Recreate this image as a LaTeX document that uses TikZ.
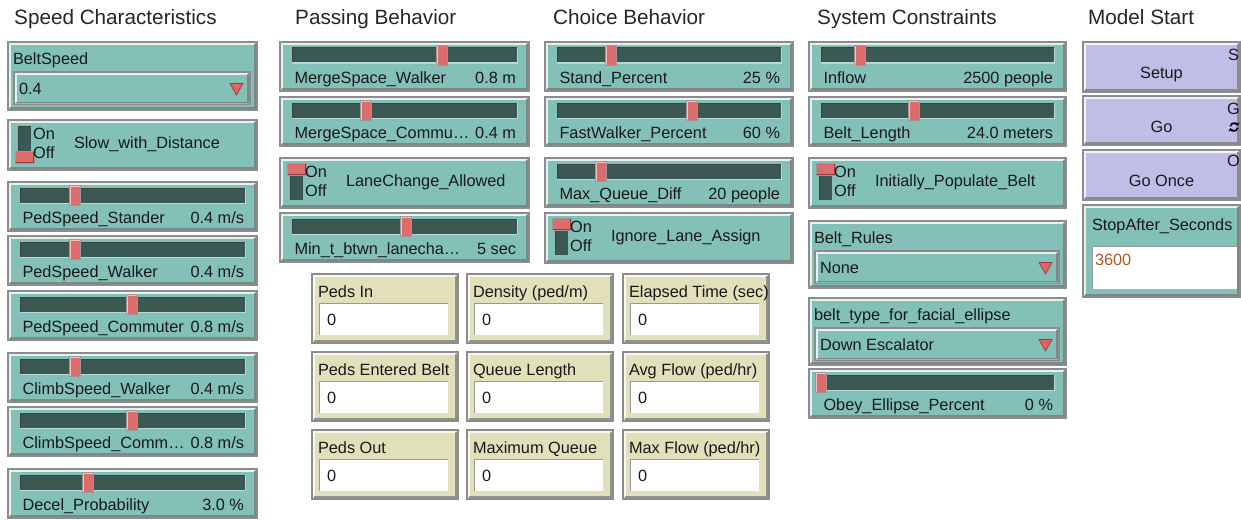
\documentclass[tikz,border=0pt]{standalone}
\usepackage{fontspec}
\setmainfont{Liberation Sans}
\usetikzlibrary{arrows.meta}
\definecolor{nlteal}{RGB}{131,193,184}
\definecolor{nltrack}{RGB}{60,88,83}
\definecolor{nlknob}{RGB}{221,108,108}
\definecolor{nlknobhi}{RGB}{245,190,190}
\definecolor{nlknobsh}{RGB}{150,60,60}
\definecolor{nlbeige}{RGB}{225,224,186}
\definecolor{nllav}{RGB}{190,190,230}
\definecolor{nltri}{RGB}{225,100,100}
\definecolor{nlbrown}{RGB}{180,85,35}
\definecolor{nltext}{RGB}{25,25,25}
\newcommand{\nlfont}{\fontsize{16.3}{19}\selectfont}
\newcommand{\nlhfont}{\fontsize{20.7}{24}\selectfont}
\tikzset{
  nlout/.style={draw=black!45, line width=1.2pt},
  nlhi/.style={draw=white, line width=1.3pt, opacity=0.8},
  nlsh/.style={draw=black!55, line width=1.3pt, opacity=0.7},
  lbl/.style={inner sep=0pt, outer sep=0pt, anchor=base west, font=\nlfont, text=nltext},
  val/.style={inner sep=0pt, outer sep=0pt, anchor=base east, font=\nlfont, text=nltext},
  ctr/.style={inner sep=0pt, outer sep=0pt, anchor=base, font=\nlfont, text=nltext},
  hdr/.style={inner sep=0pt, anchor=base west, font=\nlhfont, text=black!85},
  onoff/.style={inner sep=0pt, anchor=base west, font=\nlfont, text=nltext},
  loopicon/.style={line width=1.7pt, -{Triangle[length=2.6pt,width=5pt]}},
}
\newcommand{\nlbevel}[5]{%
  \fill[#5] (#1,#2) rectangle (#3,#4);
  \draw[nlhi] (#1+2,#4-2) -- (#1+2,#2+2) -- (#3-2,#2+2);
  \draw[nlsh] (#1+2,#4-2) -- (#3-2,#4-2) -- (#3-2,#2+2);
  \draw[nlout] (#1,#2) rectangle (#3,#4);
}
\newcommand{\nlknob}[4]{%
  \fill[nlknob] (#1,#2) rectangle (#3,#4);
  \draw[nlknobhi, line width=1pt] (#1+0.5,#4-0.5) -- (#1+0.5,#2+0.5) -- (#3-0.5,#2+0.5);
  \draw[nlknobsh, line width=1pt] (#1+0.5,#4-0.5) -- (#3-0.5,#4-0.5) -- (#3-0.5,#2+0.5);
  \draw[black!40, line width=0.6pt] (#1,#2) rectangle (#3,#4);
}
\newcommand{\nlslider}[7]{%
  \nlbevel{#1}{#2}{#1+#3}{#2+49}{nlteal}
  \fill[nltrack] (#1+12,#2+6) rectangle (#1+#3-12,#2+21);
  \draw[black!75, line width=1pt] (#1+12,#2+21) -- (#1+12,#2+6) -- (#1+#3-12,#2+6);
  \draw[nlteal!60!white, line width=1pt] (#1+12,#2+21) -- (#1+#3-12,#2+21) -- (#1+#3-12,#2+6);
  \nlknob{#4-5.5}{#2+3.5}{#4+5.5}{#2+23.5}
  \node[lbl] (#7-l) at (#1+14.5,#2+41) {#5};
  \node[val] (#7-v) at (#1+#3-13,#2+41) {#6};
}
\newcommand{\nlswitch}[6]{%
  \nlbevel{#1}{#2}{#1+#3}{#2+50}{nlteal}
  \fill[nltrack] (#1+10,#2+6) rectangle (#1+23,#2+42);
  \draw[black!75, line width=0.8pt] (#1+10,#2+42) -- (#1+10,#2+6) -- (#1+23,#2+6);
  \ifnum#4=1 \nlknob{#1+7}{#2+5}{#1+26}{#2+17}\else\nlknob{#1+7}{#2+31}{#1+26}{#2+43}\fi
  \node[onoff] (#6-on) at (#1+25,#2+19) {On};
  \node[onoff] (#6-off) at (#1+25,#2+38) {Off};
  \node[lbl] (#6) at (#1+66,#2+28) {#5};
}
\newcommand{\nlchooser}[7]{%
  \nlbevel{#1}{#2}{#1+#3}{#2+#4}{nlteal}
  \nlbevel{#1+6}{#2+30}{#1+#3-7}{#2+62.5}{nlteal}
  \filldraw[fill=nltri, draw=nlknobsh, line width=0.7pt] (#1+#3-27,#2+41.5) -- (#1+#3-14,#2+41.5) -- (#1+#3-20.5,#2+53) -- cycle;
  \node[lbl] (#7-l) at (#1+5,#2+22) {#5};
  \node[lbl] (#7-v) at (#1+11,#2+52) {#6};
}
\newcommand{\nlmonitor}[4]{%
  \nlbevel{#1}{#2}{#1+146}{#2+69}{nlbeige}
  \fill[white] (#1+7,#2+29) rectangle (#1+136,#2+61);
  \draw[black!40, line width=1pt] (#1+7,#2+61) -- (#1+7,#2+29) -- (#1+136,#2+29);
  \node[lbl] (#4-l) at (#1+6,#2+23) {#3};
  \node[lbl] (#4-v) at (#1+15,#2+51) {0};
}
\newcommand{\nlbutton}[6]{%
  \nlbevel{1083}{#1}{1240}{#2}{nllav}
  \node[ctr] (#5) at (1161.5,#1+36) {#3};
  \node[ctr] (#5-k) at (1233.5,#1+#6) {#4};
}
\begin{document}
\begin{tikzpicture}[x=1pt,y=-1pt]
\useasboundingbox (0,0) rectangle (1241,519);
\fill[white] (0,0) rectangle (1241,519);
% headers
\node[hdr] (h-speed) at (14,25) {Speed Characteristics};
\node[hdr] (h-pass) at (295,25) {Passing Behavior};
\node[hdr] (h-choice) at (553,25) {Choice Behavior};
\node[hdr] (h-sys) at (817,25) {System Constraints};
\node[hdr] (h-start) at (1088,25) {Model Start};
% column 1
\nlchooser{8}{42}{249}{68}{BeltSpeed}{0.4}{beltspeed}
\nlswitch{8}{120}{249}{0}{Slow\_with\_Distance}{slow}
\nlslider{8}{182}{249}{75}{PedSpeed\_Stander}{0.4 m/s}{pss}
\nlslider{8}{236}{249}{75}{PedSpeed\_Walker}{0.4 m/s}{psw}
\nlslider{8}{291}{249}{132}{PedSpeed\_Commuter}{0.8 m/s}{psc}
\nlslider{8}{353}{249}{75}{ClimbSpeed\_Walker}{0.4 m/s}{csw}
\nlslider{8}{407}{249}{132}{ClimbSpeed\_Comm\dots}{0.8 m/s}{csc}
\nlslider{8}{469}{249}{88}{Decel\_Probability}{3.0 \%}{decel}
% column 2
\nlslider{280}{42}{249}{442}{MergeSpace\_Walker}{0.8 m}{msw}
\nlslider{280}{97}{249}{366}{MergeSpace\_Commu\dots}{0.4 m}{msc}
\nlswitch{280}{158}{249}{1}{LaneChange\_Allowed}{lanechange}
\nlslider{280}{213}{249}{406}{Min\_t\_btwn\_lanecha\dots}{5 sec}{mint}
% column 3
\nlslider{545}{42}{248}{611}{Stand\_Percent}{25 \%}{stand}
\nlslider{545}{97}{248}{692}{FastWalker\_Percent}{60 \%}{fastw}
\nlslider{545}{158}{248}{601}{Max\_Queue\_Diff}{20 people}{maxq}
\nlswitch{545}{213}{248}{1}{Ignore\_Lane\_Assign}{ignore}
% column 4
\nlslider{809}{42}{257}{860}{Inflow}{2500 people}{inflow}
\nlslider{809}{97}{257}{914}{Belt\_Length}{24.0 meters}{beltlen}
\nlswitch{809}{158}{257}{1}{Initially\_Populate\_Belt}{initpop}
\nlchooser{809}{221}{257}{67}{Belt\_Rules}{None}{beltrules}
\nlchooser{809}{298}{257}{67}{belt\_type\_for\_facial\_ellipse}{Down Escalator}{belttype}
\nlslider{809}{369}{257}{821}{Obey\_Ellipse\_Percent}{0 \%}{obey}
% column 5
\nlbutton{42}{92}{Setup}{S}{setup}{18}
\nlbutton{96}{145}{Go}{G}{go}{18}
\nlbutton{150}{200}{Go Once}{O}{goonce}{16}
\draw[loopicon] (1230.3,126.2) arc[start angle=190, end angle=345, radius=3.8];
\draw[loopicon] (1237.7,127.8) arc[start angle=10, end angle=165, radius=3.8];
\nlbevel{1083}{205}{1240}{297}{nlteal}
\fill[white] (1092,246) rectangle (1237,289);
\draw[black!40, line width=1pt] (1092,289) -- (1092,246) -- (1237,246);
\node[lbl] (stop-l) at (1092,230) {StopAfter\_Seconds};
\node[lbl, text=nlbrown] (stop-v) at (1095,265) {3600};
% monitors
\nlmonitor{312}{274}{Peds In}{pedsin}
\nlmonitor{467}{274}{Density (ped/m)}{density}
\nlmonitor{623}{274}{Elapsed Time (sec)}{elapsed}
\nlmonitor{312}{352}{Peds Entered Belt}{pedsentered}
\nlmonitor{467}{352}{Queue Length}{queuelen}
\nlmonitor{623}{352}{Avg Flow (ped/hr)}{avgflow}
\nlmonitor{312}{430}{Peds Out}{pedsout}
\nlmonitor{467}{430}{Maximum Queue}{maxqueue}
\nlmonitor{623}{430}{Max Flow (ped/hr)}{maxflow}
\end{tikzpicture}
\end{document}
